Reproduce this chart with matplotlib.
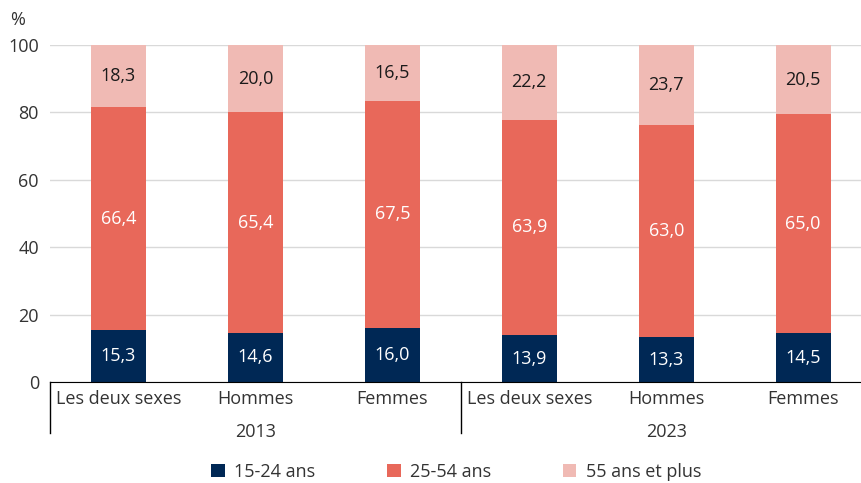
import matplotlib.pyplot as plt
import matplotlib.transforms as mtransforms
import numpy as np

plt.rcParams['font.family'] = ['Open Sans', 'DejaVu Sans']

categories = ['Les deux sexes', 'Hommes', 'Femmes', 'Les deux sexes', 'Hommes', 'Femmes']
years = ['2013', '2023']
series = ['15-24 ans', '25-54 ans', '55 ans et plus']
jeunes = [15.3, 14.6, 16.0, 13.9, 13.3, 14.5]
adultes = [66.4, 65.4, 67.5, 63.9, 63.0, 65.0]
seniors = [18.3, 20.0, 16.5, 22.2, 23.7, 20.5]

colors = ['#002855', '#E8685A', '#F0BAB4']
text_colors = ['white', 'white', '#1a1a1a']
fs = 13

fig = plt.figure(figsize=(8.62, 4.83), dpi=100)
ax = fig.add_axes([50 / 862, 1 - 382 / 483, 812 / 862, 337 / 483])

x = np.arange(len(categories))
bottom = np.zeros(len(categories))
for vals, col, tcol, lab in zip([jeunes, adultes, seniors], colors, text_colors, series):
    vals = np.array(vals)
    ax.bar(x, vals, 0.4, bottom=bottom, color=col, label=lab, zorder=3)
    for xi, b, v in zip(x, bottom, vals):
        ax.text(xi, b + v / 2, f'{v:.1f}'.replace('.', ','), ha='center', va='center',
                color=tcol, fontsize=fs, zorder=4)
    bottom += vals

ax.set_xlim(-0.5, 5.43)
ax.set_ylim(0, 100)
ax.set_yticks(range(0, 101, 20))
ax.tick_params(axis='y', length=0, labelsize=fs, colors='#333333', pad=8)
ax.tick_params(axis='x', length=0)
ax.set_xticks([])
ax.grid(axis='y', color='#d9d9d9', linewidth=1, zorder=0)
for s in ['top', 'right', 'left']:
    ax.spines[s].set_visible(False)
ax.spines['bottom'].set_color('black')
ax.spines['bottom'].set_zorder(5)

trans = mtransforms.blended_transform_factory(ax.transData, ax.transAxes)
for xi, lab in zip(x, categories):
    ax.text(xi, -0.05, lab, transform=trans, ha='center', va='center',
            fontsize=fs, color='#333333')
for gi, yr in enumerate(years):
    ax.text(gi * 3 + 1, -0.148, yr, transform=trans, ha='center', va='center',
            fontsize=fs, color='#333333')
for sep in [-0.5, 2.5]:
    ax.plot([sep, sep], [0, -0.152], transform=trans, color='black', lw=1, clip_on=False)

fig.text(18 / 862, 1 - 20 / 483, '%', fontsize=fs, color='#333333', ha='center', va='center')

ax.legend(loc='center', bbox_to_anchor=(0.5, -0.267), ncol=3, frameon=False,
          fontsize=fs, handlelength=0.75, handleheight=0.75, handletextpad=0.5,
          columnspacing=4.0, labelcolor='#333333')

fig.savefig('out.png', dpi=100)
